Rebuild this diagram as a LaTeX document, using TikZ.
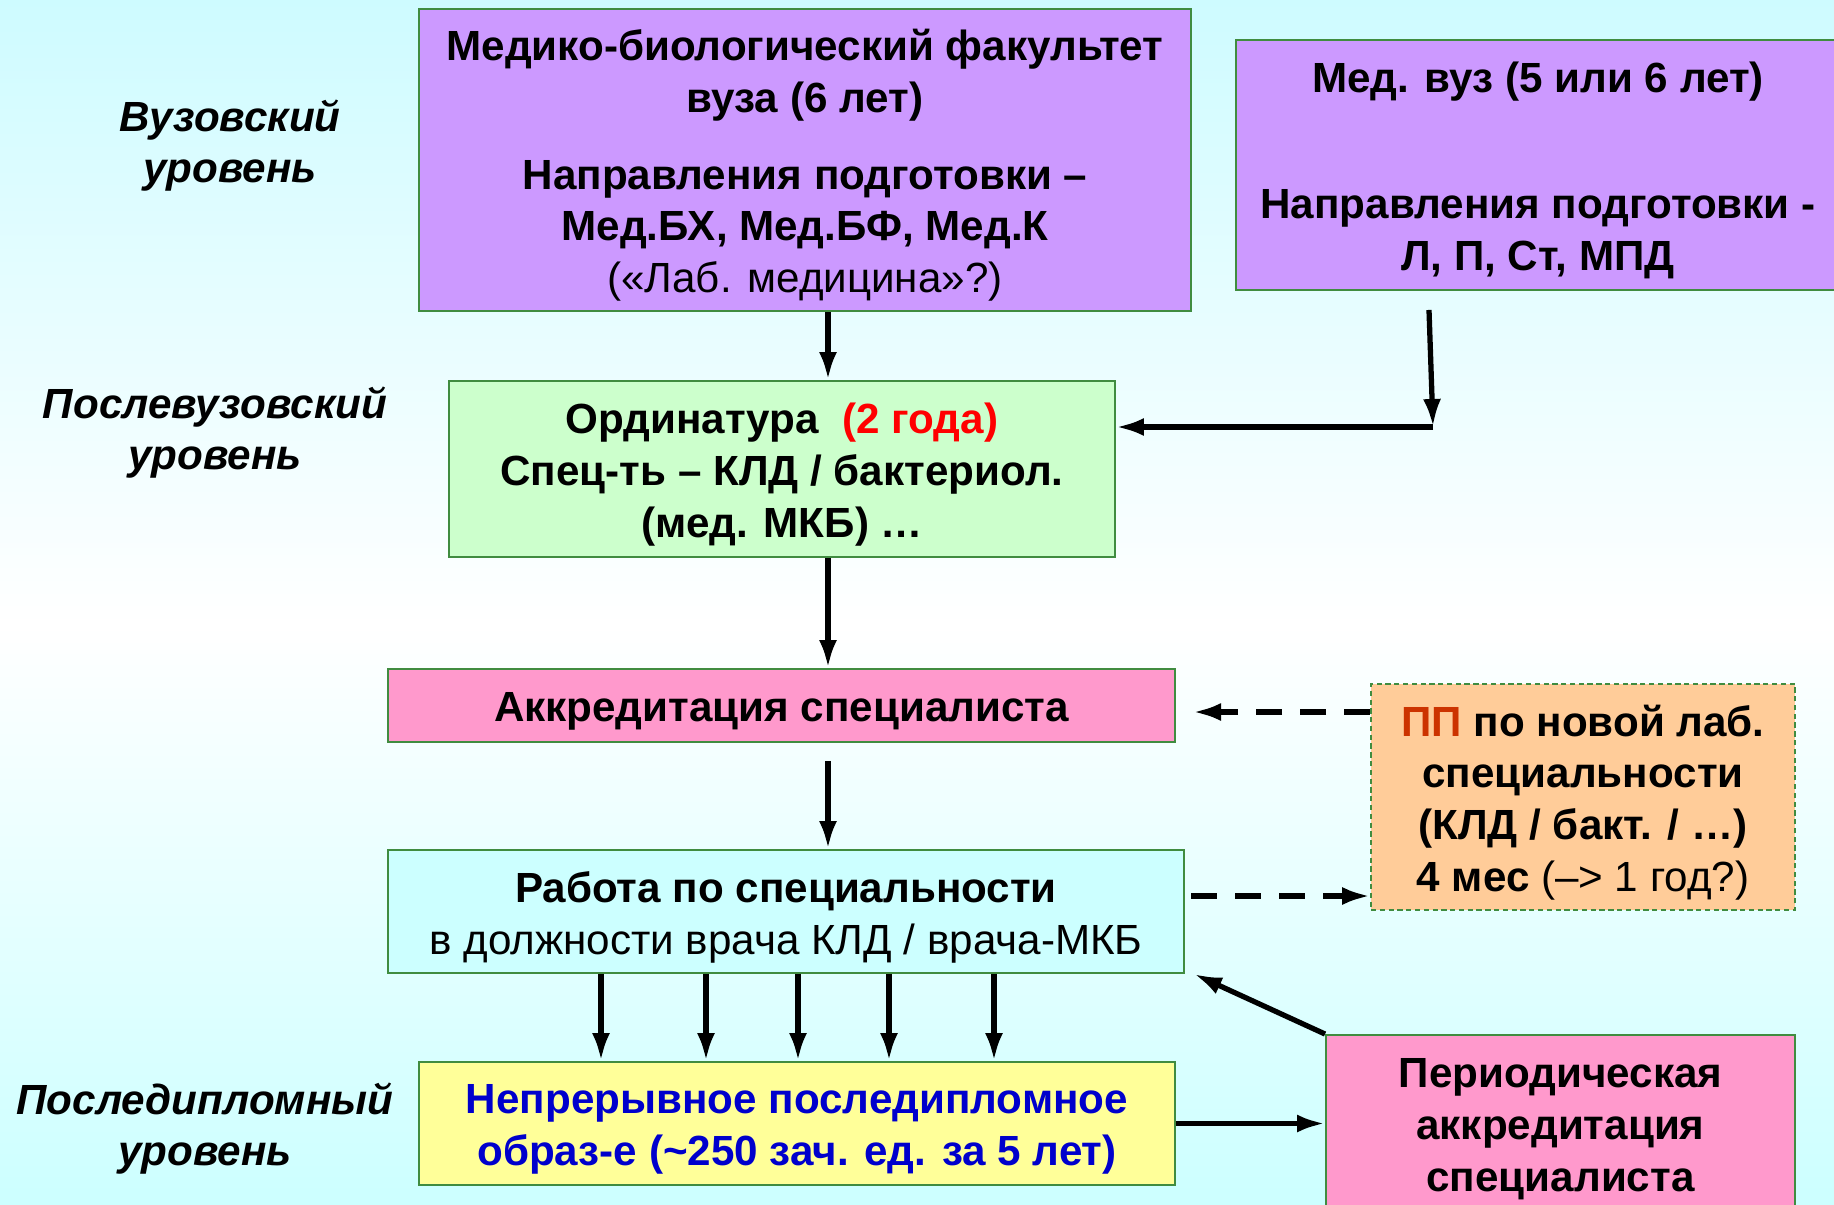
\documentclass[tikz,border=0pt]{standalone}
\usepackage{fontspec}
\setmainfont{Liberation Sans}
\usetikzlibrary{arrows.meta,calc}
\definecolor{bgtop}{RGB}{206,251,255}
\definecolor{bgbot}{RGB}{204,255,255}
\definecolor{frame}{RGB}{64,140,64}
\definecolor{vuz}{RGB}{204,153,255}
\definecolor{ordin}{RGB}{204,255,204}
\definecolor{akkr}{RGB}{255,153,204}
\definecolor{rabota}{RGB}{204,255,255}
\definecolor{ppbox}{RGB}{255,204,153}
\definecolor{nmo}{RGB}{255,255,153}
\definecolor{pptext}{RGB}{204,51,0}
\definecolor{nmotext}{RGB}{0,0,204}
\begin{document}
\begin{tikzpicture}[y=-1cm,
            box/.style={draw=frame, line width=1.1pt, inner sep=0pt},
            boxtext/.style={align=center, inner sep=0pt, yshift=-0.11cm,
                font=\fontsize{24}{29.5}\selectfont\bfseries},
            level/.style={align=center, font=\fontsize{24}{29}\selectfont\bfseries\itshape},
            arr/.style={line width=3pt, -{Latex[length=0.56cm, width=0.36cm]}},
            dasharr/.style={arr, dash pattern=on 0.52cm off 0.36cm}]
            \def\W{36.68}
            \def\H{24.1}
            \useasboundingbox (0,0) rectangle (\W,\H);
            \shade[top color=bgtop, bottom color=white] (0,0) rectangle (\W,12.5);
            \shade[top color=white, bottom color=bgbot] (0,12.5) rectangle (\W,\H);
            \node[level] (lvuz) at (4.6,2.92) {Вузовский\\ уровень};
            \node[level] (lpost) at (4.3,8.66) {Послевузовский\\ уровень};
            \node[level] (ldipl) at (4.1,22.58) {Последипломный\\ уровень};
            \node[box, fill=vuz, minimum width=15.44cm, minimum height=6.04cm,
                label={[boxtext, name=tmbf]center:{Медико-биологический факультет\\ вуза (6 лет)\\[0.49cm]
                Направления подготовки –\\ Мед.БХ, Мед.БФ, Мед.К\\ {\mdseries(«Лаб. медицина»?)}}}] (mbf) at (16.1,3.2) {};
            \node[box, fill=vuz, minimum width=12.08cm, minimum height=5cm,
                label={[boxtext, name=tmedvuz]center:{Мед. вуз (5 или 6 лет)\\[1.49cm] Направления подготовки -\\ Л, П, Ст, МПД}}] (medvuz) at (30.76,3.3) {};
            \node[box, fill=ordin, minimum width=13.32cm, minimum height=3.52cm,
                label={[boxtext, name=tordin]center:{Ординатура\ \ {\color{red}(2 года)}\\ Спец-ть – КЛД / бактериол.\\ (мед. МКБ) …}}] (ordin) at (15.64,9.38) {};
            \node[box, fill=akkr, minimum width=15.74cm, minimum height=1.46cm,
                label={[boxtext, name=takkr]center:{Аккредитация специалиста}}] (akkr) at (15.63,14.11) {};
            \node[box, fill=rabota, minimum width=15.92cm, minimum height=2.46cm,
                label={[boxtext, name=trabota]center:{Работа по специальности\\ {\mdseries в должности врача КЛД / врача-МКБ}}}] (rabota) at (15.72,18.23) {};
            \node[box, fill=ppbox, densely dashed, line width=0.9pt, minimum width=8.48cm, minimum height=4.52cm,
                label={[boxtext, name=tpp]center:{{\color{pptext}ПП} по новой лаб.\\ специальности\\ (КЛД / бакт. / …)\\ 4 мес {\mdseries(–> 1 год?)}}}] (pp) at (31.66,15.94) {};
            \node[box, fill=nmo, minimum width=15.12cm, minimum height=2.46cm,
                label={[boxtext, text=nmotext, name=tnmo]center:{Непрерывное последипломное\\ образ-е (\textasciitilde250 зач. ед. за 5 лет)}}] (nmo) at (15.94,22.47) {};
            \node[box, fill=akkr, minimum width=9.38cm, minimum height=3.56cm,
                label={[boxtext, name=tperiod]center:{Периодическая\\ аккредитация\\ специалиста}}] (period) at (31.21,22.48) {};
            \coordinate (axis) at (16.56,0);
            \coordinate (bend) at (28.66,8.54);
            \coordinate (w2p) at (23.82,17.92);
            \coordinate (p2a) at (23.86,14.24);
            \draw[arr] (mbf.south -| axis) -- (ordin.north -| axis);
            \draw[arr] ([yshift=-0.38cm]medvuz.south -| 28.58,0) -- (bend);
            \draw[arr] (bend) -- (ordin.east |- bend);
            \draw[arr] (ordin.south -| axis) -- (akkr.north -| axis);
            \draw[arr] ([yshift=-0.36cm]akkr.south -| axis) -- (rabota.north -| axis);
            \draw[dasharr] (w2p) -- (pp.west |- w2p);
            \draw[dasharr] (pp.west |- p2a) -- (p2a);
            \foreach \x in {12.02,14.12,15.96,17.78,19.88} {
                \coordinate (t) at (\x,0);
                \draw[arr] (rabota.south -| t) -- (nmo.north -| t);
            }
            \draw[arr] (nmo.east) -- (period.west |- nmo.east);
            \draw[arr] (period.north west) -- ([xshift=0.18cm]rabota.south east);
        \end{tikzpicture}
\end{document}
